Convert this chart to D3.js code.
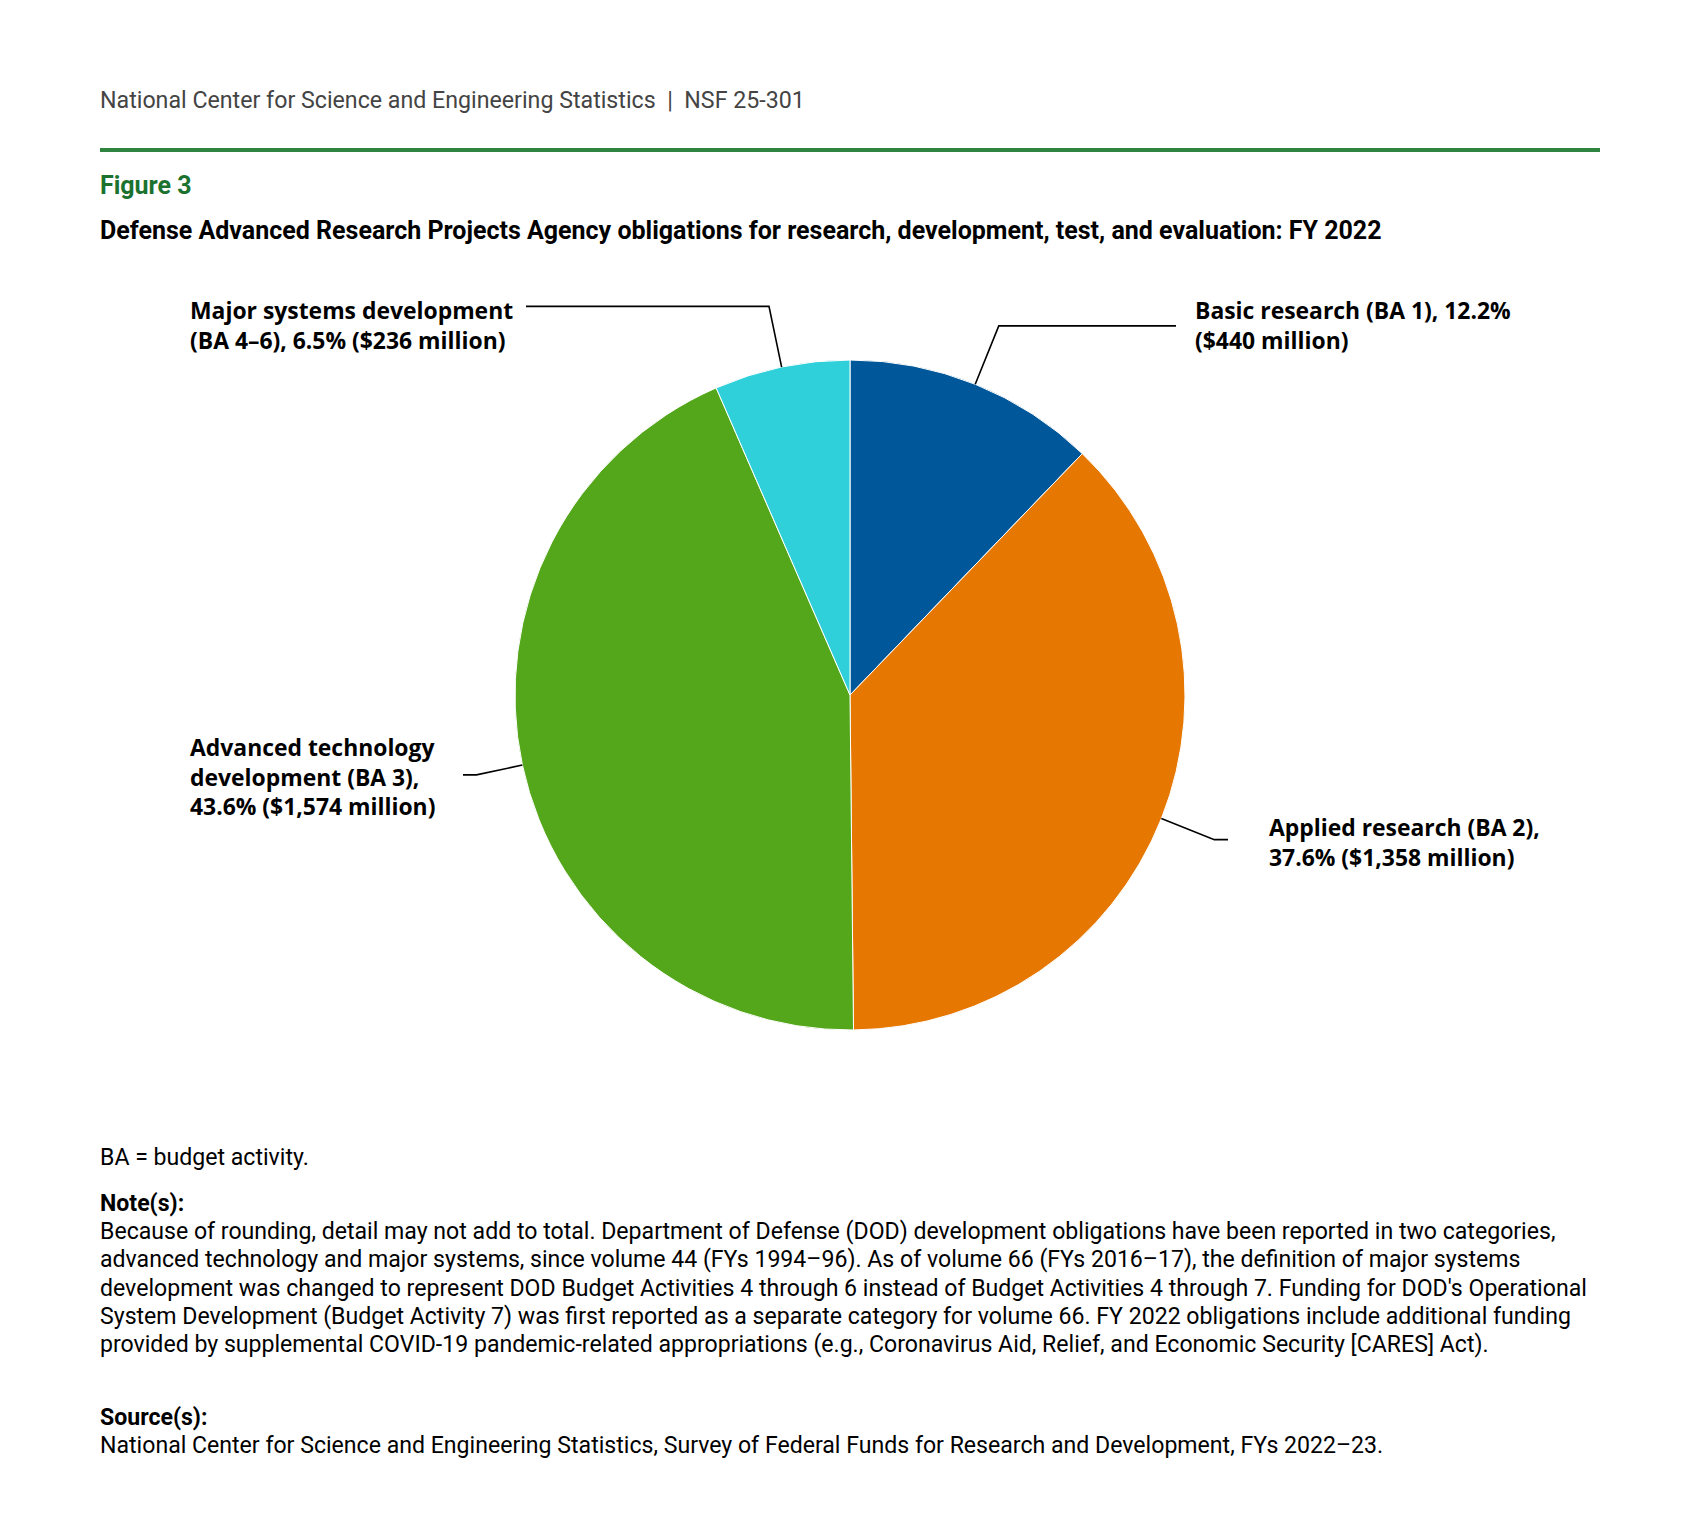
<!DOCTYPE html>
<meta charset="utf-8">
<style>
    body { margin: 0; background: #fff; }
    .hdr { font-family: Roboto, sans-serif; font-size: 23.2px; fill: #444; }
    .fig { font-family: Roboto, sans-serif; font-size: 25px; font-weight: bold; fill: #1b722f; }
    .ttl { font-family: Roboto, sans-serif; font-size: 25px; font-weight: bold; fill: #000; }
    .lbl { font-family: "Open Sans", sans-serif; font-size: 22.9px; font-weight: bold; fill: #000; }
    .note { font-family: Roboto, sans-serif; font-size: 23.1px; fill: #000; }
    .noteb { font-family: Roboto, sans-serif; font-size: 23.1px; font-weight: bold; fill: #000; }
    .slice { stroke: #fff; stroke-width: 1px; }
    .leader { stroke: #000; stroke-width: 1.6px; fill: none; }
</style>

<svg width="1699" height="1536"></svg>

<script src="https://cdn.jsdelivr.net/npm/d3@7"></script>
<script>
    // DARPA RDT&E obligations, FY 2022 ($ millions)
    var categories = ["Basic research (BA 1)", "Applied research (BA 2)",
        "Advanced technology development (BA 3)", "Major systems development (BA 4–6)"];
    var values = [440, 1358, 1574, 236];
    var colors = ["#00579a", "#e67700", "#54a71a", "#30d0da"];
    var labelLines = [
        ["Basic research (BA 1), 12.2%", "($440 million)"],
        ["Applied research (BA 2),", "37.6% ($1,358 million)"],
        ["Advanced technology", "development (BA 3),", "43.6% ($1,574 million)"],
        ["Major systems development", "(BA 4–6), 6.5% ($236 million)"]
    ];
    var noteLines = [
        "Because of rounding, detail may not add to total. Department of Defense (DOD) development obligations have been reported in two categories,",
        "advanced technology and major systems, since volume 44 (FYs 1994–96). As of volume 66 (FYs 2016–17), the definition of major systems",
        "development was changed to represent DOD Budget Activities 4 through 6 instead of Budget Activities 4 through 7. Funding for DOD's Operational",
        "System Development (Budget Activity 7) was first reported as a separate category for volume 66. FY 2022 obligations include additional funding",
        "provided by supplemental COVID-19 pandemic-related appropriations (e.g., Coronavirus Aid, Relief, and Economic Security [CARES] Act)."
    ];

    (function () {
        var svg = d3.select("svg"),
            cx = 850, cy = 695, radius = 335,
            g = svg.append("g").attr("transform", "translate(" + [cx, cy] + ")");

        // header
        svg.append("text").attr("class", "hdr").attr("x", 100).attr("y", 108)
            .text("National Center for Science and Engineering Statistics  |  NSF 25-301")
            .attr("xml:space", "preserve");
        svg.append("rect").attr("x", 100).attr("y", 148).attr("width", 1500).attr("height", 4)
            .attr("fill", "#2f8540");
        svg.append("text").attr("class", "fig").attr("x", 100).attr("y", 194).text("Figure 3");
        svg.append("text").attr("class", "ttl").attr("x", 100).attr("y", 239)
            .text("Defense Advanced Research Projects Agency obligations for research, development, test, and evaluation: FY 2022");

        var pie = d3.pie().sort(null).value(function (d) { return d; }),
            arc = d3.arc().innerRadius(0).outerRadius(radius),
            arcs = pie(values);

        g.selectAll("path.slice")
            .data(arcs)
            .enter()
            .append("path")
            .attr("class", "slice")
            .attr("d", arc)
            .attr("fill", function (d, i) { return colors[i]; });

        // label layout: elbow radius, end of horizontal run, text x, first baseline
        var layout = [
            { elbow: 398, endX: 1176, tx: 1195, ty: 319 },
            { elbow: 392, endX: 1228, tx: 1269, ty: 836 },
            { elbow: 382, endX: 463, tx: 190, ty: 756 },
            { elbow: 397, endX: 526, tx: 190, ty: 319 }
        ];

        arcs.forEach(function (d, i) {
            var a = (d.startAngle + d.endAngle) / 2,
                L = layout[i],
                p0 = [radius * Math.sin(a), -radius * Math.cos(a)],
                p1 = [L.elbow * Math.sin(a), -L.elbow * Math.cos(a)],
                p2 = [L.endX - cx, p1[1]];
            g.append("path")
                .attr("class", "leader")
                .attr("d", d3.line()([p0, p1, p2]));

            var t = svg.append("text").attr("class", "lbl");
            labelLines[i].forEach(function (s, k) {
                t.append("tspan").attr("x", L.tx).attr("y", L.ty + k * 29.5).text(s);
            });
        });

        // footnotes
        svg.append("text").attr("class", "note").attr("x", 100).attr("y", 1165).text("BA = budget activity.");
        svg.append("text").attr("class", "noteb").attr("x", 100).attr("y", 1211).text("Note(s):");
        var nt = svg.append("text").attr("class", "note");
        noteLines.forEach(function (s, k) {
            nt.append("tspan").attr("x", 100).attr("y", 1239 + k * 28.3).text(s);
        });
        svg.append("text").attr("class", "noteb").attr("x", 100).attr("y", 1425).text("Source(s):");
        svg.append("text").attr("class", "note").attr("x", 100).attr("y", 1453)
            .text("National Center for Science and Engineering Statistics, Survey of Federal Funds for Research and Development, FYs 2022–23.");
    })();
</script>
